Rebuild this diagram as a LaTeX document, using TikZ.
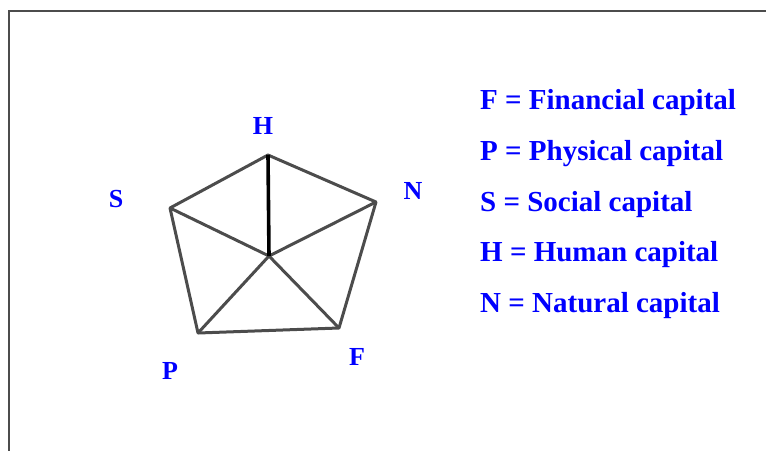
\documentclass[tikz,border=0pt]{standalone}
\usepackage{fontspec}
\setmainfont{Liberation Serif}
\usepackage{tikz}
\usetikzlibrary{positioning}

\begin{document}
\begin{tikzpicture}[
            x=1pt, y=-1pt,
            edge/.style={draw=black!70, line width=3pt, line join=round},
            spoke/.style={draw=black, line width=3.6pt},
            caplabel/.style={text=blue, font=\fontsize{26}{30}\selectfont\bfseries, inner sep=0pt},
            legend/.style={text=blue, font=\fontsize{29}{34}\selectfont\bfseries, anchor=base west, inner sep=0pt}
        ]
        \useasboundingbox (0,0) rectangle (766,451);

        % Rahmen
        \draw[black!70, line width=2pt] (766,11) -- (9,11) -- (9,451);

        % Ecken
        \coordinate (h) at (268,155);
        \coordinate (n) at (376,202);
        \coordinate (f) at (339,328);
        \coordinate (p) at (198,333);
        \coordinate (s) at (170,208);
        \coordinate (m) at (269,256);

        % Kanten
        \draw[edge] (h) -- (n) -- (f) -- (p) -- (s) -- cycle;
        \draw[edge] (s) -- (m) -- (n);
        \draw[edge] (p) -- (m) -- (f);
        \draw[spoke] (m) -- (h);

        % Beschriftung
        \node[caplabel] (hl) at (263,126) {H};
        \node[caplabel] (nl) at (413,191) {N};
        \node[caplabel] (fl) at (357,357) {F};
        \node[caplabel] (pl) at (170,371) {P};
        \node[caplabel] (sl) at (116,199) {S};

        % Legende
        \node[legend] (lf) at (480,109) {F = Financial capital};
        \node[legend] (lp) at (480,160) {P = Physical capital};
        \node[legend] (ls) at (480,211) {S = Social capital};
        \node[legend] (lh) at (480,261) {H = Human capital};
        \node[legend] (ln) at (480,312) {N = Natural capital};

    \end{tikzpicture}
\end{document}
